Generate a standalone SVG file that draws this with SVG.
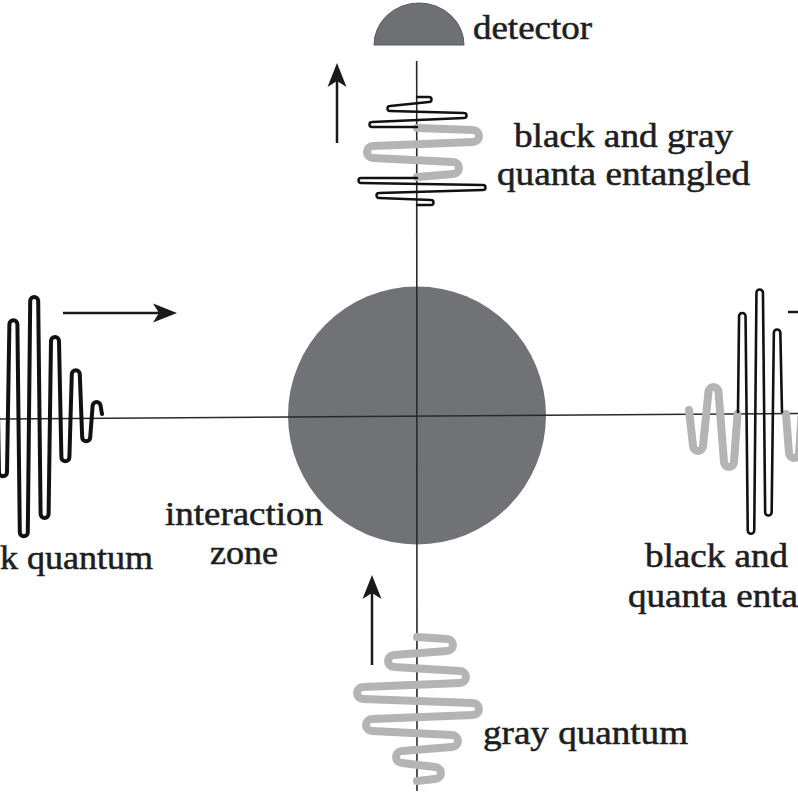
<svg xmlns="http://www.w3.org/2000/svg" width="798" height="799" viewBox="0 0 798 799">
<style>
.lbl{font-family:"Liberation Serif","Times New Roman",serif;font-size:34px;fill:#1e1e1e;stroke:#1e1e1e;stroke-width:0.55}
.axis{stroke:#2a2a2a;stroke-width:1.6;fill:none}
.arr{stroke:#1a1a1a;stroke-width:2.5;fill:none}
.bw{stroke:#111;fill:none;stroke-linecap:round;stroke-linejoin:round}
.gw{stroke:#b4b4b4;stroke-width:8;fill:none;stroke-linecap:round;stroke-linejoin:round}
</style>
<defs>
<marker id="ah" markerUnits="userSpaceOnUse" viewBox="-20 -11 28 22" markerWidth="28" markerHeight="22" refX="0" refY="0" orient="auto">
<path d="M6,0 L-18,-9.5 L-12,0 L-18,9.5 Z" fill="#1a1a1a"/>
</marker>
</defs>
<rect width="798" height="799" fill="#fff"/>
<g id="interaction-zone">
<circle cx="417" cy="415.5" r="129" fill="#717276"/>
</g>
<g id="detector">
<path d="M374,45 A45,42 0 0 1 464,45 Z" fill="#6f7074" stroke="#58595c" stroke-width="1"/>
</g>
<g id="connectors">
<line class="axis" x1="0" y1="419" x2="798" y2="413.5"/>
<line class="axis" x1="416.7" y1="61" x2="417" y2="791"/>
<line class="arr" x1="63" y1="313" x2="171" y2="313" marker-end="url(#ah)"/>
<line class="arr" x1="337" y1="143" x2="337" y2="69" marker-end="url(#ah)"/>
<line class="arr" x1="372" y1="665" x2="372" y2="581" marker-end="url(#ah)"/>
<line class="arr" x1="788" y1="312" x2="800" y2="312"/>
</g>
<g id="black-quantum">
<path class="bw" stroke-width="4" d="M-3.4,330 L-1,472.3 A4,4 0 0 0 7,472.3 L9.4,324.3 A4,4 0 0 1 17.4,324.3 L19.8,532.3 A4,4 0 0 0 27.8,532.3 L30.2,301 A4,4 0 0 1 38.2,301 L40.6,514 A4,4 0 0 0 48.6,514 L51,341 A4,4 0 0 1 59,341 L61.4,457.3 A4,4 0 0 0 69.4,457.3 L71.8,374.3 A4,4 0 0 1 79.8,374.3 L82.2,437.3 A4,4 0 0 0 90.2,437.3 L92.6,406 A4,4 0 0 1 100.6,406 L102,414"/>
</g>
<g id="gray-quantum">
<path class="gw" d="M417,637 L447,639 A6,6 0 0 1 447,651 L394,655 A6,6 0 0 0 394,667 L460,671 A6,6 0 0 1 460,683 L363,687 A6,6 0 0 0 363,699 L473,703 A6,6 0 0 1 473,715 L372,719 A6,6 0 0 0 372,731 L452,735 A6,6 0 0 1 452,747 L402,751 A6,6 0 0 0 402,763 L435,767 A6,6 0 0 1 435,779 L417,781"/>
</g>
<g id="entangled-top">
<path class="gw" d="M417,128 L473,130 A6,6 0 0 1 473,142 L373,146 A6,6 0 0 0 373,158 L453,162 A6,6 0 0 1 453,174 L417,177"/>
<path class="bw" stroke-width="2.5" d="M417,97 H429 A2.5,2.5 0 0 1 429,102 L390,106 A2.5,2.5 0 0 0 390,111 L464,113 A2.5,2.5 0 0 1 464,118 L372,122 A2.5,2.5 0 0 0 372,127 L417,127"/>
<path class="bw" stroke-width="2.5" d="M417,178 L361,178 A2.5,2.5 0 0 0 361,183 L483,185 A2.5,2.5 0 0 1 483,190 L379,193 A2.5,2.5 0 0 0 379,198 L431,200 A2.5,2.5 0 0 1 431,205 L417,205"/>
</g>
<g id="entangled-right">
<path class="gw" d="M689,410 L693,446 A5,5 0 0 0 703,446 L708.5,392 A5,5 0 0 1 718.5,392 L724,462 A5,5 0 0 0 734,462 L737.5,414"/>
<path class="gw" d="M786,414 L789,453 A5,5 0 0 0 799,453 L802,410"/>
<path class="bw" stroke-width="2.6" d="M738,412 L739.05,316.2 A3.25,3.25 0 0 1 745.55,316.2 L747.75,530.5 A3.25,3.25 0 0 0 754.25,530.5 L756.45,292.8 A3.25,3.25 0 0 1 762.95,292.8 L765.15,512.2 A3.25,3.25 0 0 0 771.65,512.2 L773.85,332.8 A3.25,3.25 0 0 1 780.35,332.8 L782,412"/>
</g>
<g id="labels">
<text class="lbl" x="473" y="39" textLength="119" lengthAdjust="spacingAndGlyphs">detector</text>
<text class="lbl" x="514" y="147" textLength="219" lengthAdjust="spacingAndGlyphs">black and gray</text>
<text class="lbl" x="497" y="185" textLength="253" lengthAdjust="spacingAndGlyphs">quanta entangled</text>
<text class="lbl" x="165" y="525" textLength="158" lengthAdjust="spacingAndGlyphs">interaction</text>
<text class="lbl" x="210" y="564" textLength="68" lengthAdjust="spacingAndGlyphs">zone</text>
<text class="lbl" x="0" y="569" textLength="153" lengthAdjust="spacingAndGlyphs">k quantum</text>
<text class="lbl" x="645" y="567" textLength="143" lengthAdjust="spacingAndGlyphs">black and</text>
<text class="lbl" x="628" y="607" textLength="170" lengthAdjust="spacingAndGlyphs">quanta enta</text>
<text class="lbl" x="483" y="744" textLength="205" lengthAdjust="spacingAndGlyphs">gray quantum</text>
</g>
</svg>
